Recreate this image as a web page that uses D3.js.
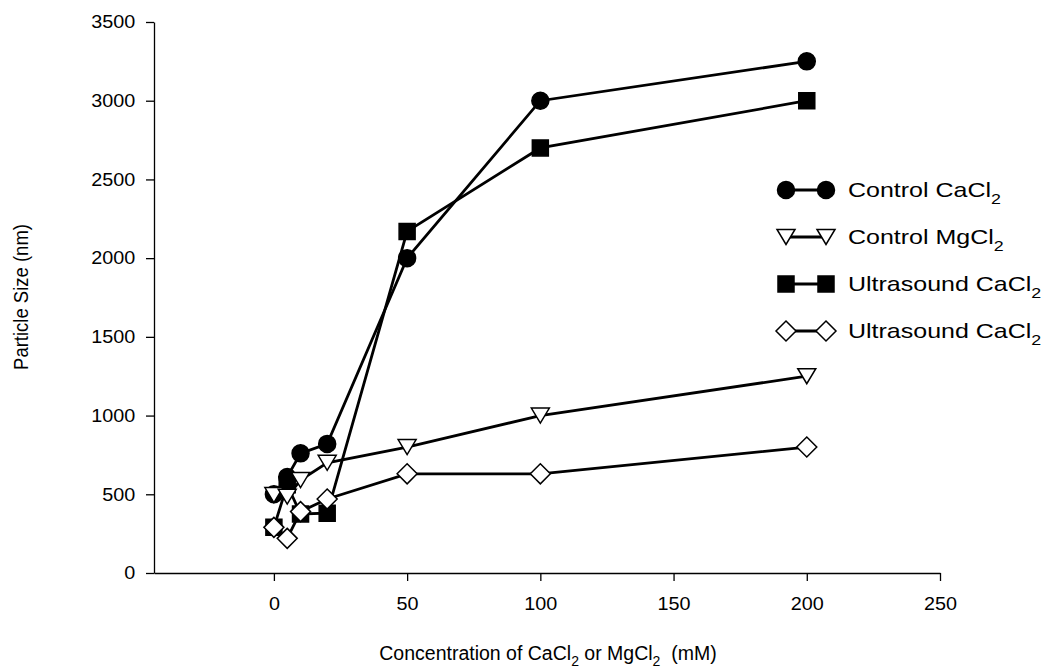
<!DOCTYPE html>
<html>
<head>
<meta charset="utf-8">
<script src="https://cdn.jsdelivr.net/npm/d3@7"></script>
<style>
  html, body { margin: 0; padding: 0; background: #fff; }
  text { font-family: "Liberation Sans", Arial, sans-serif; fill: #000; }
</style>
</head>
<body>
<svg id="chart" width="1049" height="672"></svg>
<script>
// Concentration (mM) and measured particle size (nm) per treatment
const concentrations = [0, 5, 10, 20, 50, 100, 200];
const controlCaCl2 = [500, 610, 760, 820, 2000, 3000, 3250];
const controlMgCl2 = [495, 485, 590, 700, 800, 1000, 1250];
const ultrasoundCaCl2 = [290, 560, 375, 380, 2170, 2700, 3000];
const ultrasoundCaCl2b = [290, 220, 390, 470, 630, 630, 800];

const xTicks = [0, 50, 100, 150, 200, 250];
const yTicks = [0, 500, 1000, 1500, 2000, 2500, 3000, 3500];

const series = [
  { name: "Control CaCl", sub: "2", values: controlCaCl2, symbol: d3.symbolCircle, size: 227, fill: "#000" },
  { name: "Control MgCl", sub: "2", values: controlMgCl2, symbol: "triangleDown", size: 18, fill: "#fff" },
  { name: "Ultrasound CaCl", sub: "2", values: ultrasoundCaCl2, symbol: d3.symbolSquare, size: 256, fill: "#000" },
  { name: "Ultrasound CaCl", sub: "2", values: ultrasoundCaCl2b, symbol: "diamond", size: 20, fill: "#fff" }
];
// drawing order of the plots (squares beneath the others)
const drawOrder = [2, 0, 1, 3];

const svg = d3.select("#chart");
const x = d3.scaleLinear().domain([-45, 250]).range([154, 940]);
const y = d3.scaleLinear().domain([0, 3500]).range([573, 22]);

// Axes
const xAxis = svg.append("g").attr("transform", `translate(0,${y(0)})`)
  .call(d3.axisBottom(x).tickValues(xTicks).tickFormat(d3.format("d"))
    .tickSize(8).tickPadding(16).tickSizeOuter(0));
const yAxis = svg.append("g").attr("transform", `translate(${x(-45)},0)`)
  .call(d3.axisLeft(y).tickValues(yTicks).tickFormat(d3.format("d"))
    .tickSize(8).tickPadding(9).tickSizeOuter(0));
[xAxis, yAxis].forEach(g => {
  g.select(".domain").attr("stroke", "#000").attr("stroke-width", 1.3);
  g.selectAll(".tick line").attr("stroke", "#000").attr("stroke-width", 1.3);
  g.selectAll(".tick text").attr("font-size", 18)
    .attr("transform", "scale(1.1,1)")
    .attr("font-family", "'Liberation Sans', Arial, sans-serif").attr("fill", "#000");
});

// Axis titles
const xt = svg.append("text").attr("x", 548).attr("y", 660).attr("text-anchor", "middle").attr("font-size", 19.5);
xt.append("tspan").text("Concentration of CaCl");
xt.append("tspan").attr("dy", 6).attr("font-size", 14).text("2");
xt.append("tspan").attr("dy", -6).text(" or MgCl");
xt.append("tspan").attr("dy", 6).attr("font-size", 14).text("2");
xt.append("tspan").attr("dy", -6).text("\u00a0\u00a0(mM)");

svg.append("text").attr("transform", "translate(28,297) scale(1.12,1) rotate(-90)")
  .attr("text-anchor", "middle").attr("font-size", 18.5).text("Particle Size (nm)");

// Marker path generator
function markerPath(s) {
  if (s.symbol === "triangleDown") {
    const w = s.size / 2, h = 15;
    return `M${-w},${-h / 2}L${w},${-h / 2}L0,${h / 2}Z`;
  }
  if (s.symbol === "diamond") {
    const r = s.size / 2;
    return `M0,${-r}L${r},0L0,${r}L${-r},0Z`;
  }
  return d3.symbol().type(s.symbol).size(s.size)();
}

const line = d3.line().x((d, i) => x(concentrations[i])).y(d => y(d));

drawOrder.forEach(k => {
  const s = series[k];
  const g = svg.append("g");
  g.append("path").datum(s.values).attr("d", line)
    .attr("fill", "none").attr("stroke", "#000").attr("stroke-width", 2.8);
  g.selectAll("path.m").data(s.values).join("path").attr("class", "m")
    .attr("transform", (d, i) => `translate(${x(concentrations[i])},${y(d)})`)
    .attr("d", markerPath(s))
    .attr("fill", s.fill).attr("stroke", "#000").attr("stroke-width", 1.5);
});

// Legend
const legendY = [190, 237, 284, 331];
series.forEach((s, i) => {
  const g = svg.append("g").attr("transform", `translate(0,${legendY[i]})`);
  g.append("line").attr("x1", 786).attr("x2", 826).attr("y1", 0).attr("y2", 0)
    .attr("stroke", "#000").attr("stroke-width", 2.8);
  [786, 826].forEach(cx => {
    g.append("path").attr("transform", `translate(${cx},0)`).attr("d", markerPath(s))
      .attr("fill", s.fill).attr("stroke", "#000").attr("stroke-width", 1.5);
  });
  const t = g.append("text").attr("transform", "translate(848,7) scale(1.19,1)").attr("font-size", 21);
  t.append("tspan").text(s.name);
  t.append("tspan").attr("dy", 7).attr("font-size", 15).text(s.sub);
});
</script>
</body>
</html>
